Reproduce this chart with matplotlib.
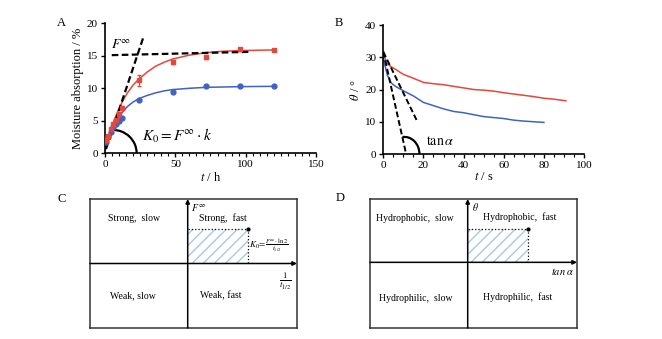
import matplotlib
matplotlib.use('Agg')
import matplotlib.pyplot as plt
from matplotlib.patches import Arc, Rectangle
from matplotlib.ticker import MultipleLocator

plt.rcParams['font.family'] = ['Liberation Serif', 'DejaVu Serif']
plt.rcParams['mathtext.fontset'] = 'stix'

RED = '#e5483b'
BLUE = '#4062c4'

# Panel A: moisture absorption data points
t_pts = [1, 2, 4, 6, 8, 10, 12, 24, 48, 72, 96, 120]
red_pts = [2.0, 2.7, 3.7, 4.5, 5.1, 6.0, 7.0, 11.2, 14.0, 14.8, 16.0, 15.9]
red_err = [0.1, 0.1, 0.2, 0.2, 0.2, 0.2, 0.3, 0.8, 0.3, 0.3, 0.2, 0.2]
blue_pts = [1.8, 2.5, 3.3, 4.0, 4.5, 5.0, 5.5, 8.2, 9.5, 10.4, 10.3, 10.3]

# fitted curves
t_fit = [0, 2, 4, 6, 8, 10, 12, 16, 20, 24, 30, 36, 42, 48, 60, 72, 84, 96, 108, 120]
red_fit = [0.5, 2.2, 3.6, 4.8, 5.9, 6.9, 7.8, 9.3, 10.5, 11.4, 12.5, 13.4, 14.0,
           14.5, 15.1, 15.5, 15.7, 15.8, 15.85, 15.9]
blue_fit = [0.5, 1.8, 3.0, 4.0, 4.9, 5.6, 6.2, 7.2, 7.9, 8.4, 8.9, 9.3, 9.6,
            9.8, 10.0, 10.15, 10.2, 10.25, 10.28, 10.3]

# Panel B: contact angle vs time
t_b_red = [0, 1, 2, 4, 6, 8, 10, 15, 20, 25, 30, 35, 40, 45, 50, 55, 60, 65, 70, 75, 80, 85, 91]
theta_red = [31, 29.5, 28, 27, 26.3, 25.5, 24.7, 23.5, 22.2, 21.8, 21.5, 21, 20.5, 20,
             19.8, 19.5, 19, 18.6, 18.2, 17.8, 17.3, 17, 16.5]
t_b_blue = [0, 1, 2, 4, 6, 8, 10, 15, 20, 25, 30, 35, 40, 45, 50, 55, 60, 65, 70, 75, 80]
theta_blue = [30, 27, 24.5, 22, 21, 20.3, 19.6, 18, 16, 15, 14, 13.2, 12.8, 12.2, 11.6,
              11.3, 11, 10.5, 10.2, 10, 9.8]

fig = plt.figure(figsize=(6.62, 3.39), dpi=100)


def style_axes(ax):
    for s in ['top', 'right']:
        ax.spines[s].set_visible(False)
    for s in ['left', 'bottom']:
        ax.spines[s].set_linewidth(1.2)
    ax.tick_params(labelsize=8, width=1.0, length=3, direction='out', pad=2)
    ax.tick_params(which='minor', width=0.8, length=2)


# ---- A ----
axA = fig.add_axes([0.1586, 0.5478, 0.3187, 0.3835])
axA.plot(t_fit, red_fit, color=RED, lw=1.1)
axA.plot(t_fit, blue_fit, color=BLUE, lw=1.1)
axA.errorbar(t_pts, red_pts, yerr=red_err, fmt='s', color=RED, ms=3.5,
             elinewidth=0.8, capsize=1.5, zorder=3)
axA.plot(t_pts, blue_pts, 'o', color=BLUE, ms=3.5, zorder=3)
axA.plot([0.7, 27.2], [0.65, 17.8], ls='--', color='black', lw=1.6, dashes=(3, 1.5))
axA.plot([4.8, 102], [15.1, 15.6], ls='--', color='black', lw=1.6, dashes=(3, 1.5))
axA.add_patch(Arc((5.5, 0), 34, 7.2, theta1=0, theta2=95, color='black', lw=1.6))
axA.text(4.5, 16.7, r'$F^{\infty}$', fontsize=10, va='center')
axA.text(26, 2.6, r'$K_0=F^{\infty}\cdot k$', fontsize=11, va='center')
axA.set_xlim(0, 150)
axA.set_ylim(0, 20)
axA.set_xticks([0, 50, 100, 150])
axA.set_yticks([0, 5, 10, 15, 20])
axA.xaxis.set_minor_locator(MultipleLocator(5))
axA.set_xlabel(r'$t$ / h', fontsize=9, labelpad=1)
axA.set_ylabel('Moisture absorption / %', fontsize=9, labelpad=2)
style_axes(axA)
fig.text(57 / 662, 1 - 23 / 339, 'A', fontsize=9, va='center')

# ---- B ----
axB = fig.add_axes([0.579, 0.5457, 0.3032, 0.3805])
axB.plot(t_b_red, theta_red, color=RED, lw=1.1)
axB.plot(t_b_blue, theta_blue, color=BLUE, lw=1.1)
axB.plot([0, 11.3], [31.7, 0.2], ls='--', color='black', lw=1.4, dashes=(3, 1.5))
axB.plot([0, 17], [31.7, 10], ls='--', color='black', lw=1.4, dashes=(3, 1.5))
axB.add_patch(Arc((10.5, 0), 15, 10.6, theta1=0, theta2=100, color='black', lw=1.6))
axB.text(21.3, 3.8, r'$\mathrm{tan}\,\alpha$', fontsize=10, va='center')
axB.set_xlim(0, 100)
axB.set_ylim(0, 40)
axB.set_xticks([0, 20, 40, 60, 80, 100])
axB.set_yticks([0, 10, 20, 30, 40])
axB.xaxis.set_minor_locator(MultipleLocator(5))
axB.set_xlabel(r'$t$ / s', fontsize=9, labelpad=1)
axB.set_ylabel(r'$\theta$ / °', fontsize=9, labelpad=2)
style_axes(axB)
fig.text(335 / 662, 1 - 23 / 339, 'B', fontsize=9, va='center')


# ---- C and D: quadrant diagrams ----
def quadrant(ax, vx, hy, rx, ry):
    ax.set_xlim(0, 1)
    ax.set_ylim(0, 1)
    ax.set_xticks([])
    ax.set_yticks([])
    for s in ax.spines.values():
        s.set_linewidth(1.1)
        s.set_color('#333333')
    ax.annotate('', xy=(1.0, hy), xytext=(0, hy),
                arrowprops=dict(arrowstyle='-|>', color='black', lw=1.1,
                                mutation_scale=6, shrinkA=0, shrinkB=0))
    ax.annotate('', xy=(vx, 1.0), xytext=(vx, 0),
                arrowprops=dict(arrowstyle='-|>', color='black', lw=1.1,
                                mutation_scale=6, shrinkA=0, shrinkB=0))
    ax.add_patch(Rectangle((vx, hy), rx - vx, ry - hy, fill=False, hatch='///',
                           edgecolor='#a9c8e4', lw=0))
    ax.plot([vx, rx, rx], [ry, ry, hy], ls=':', color='black', lw=0.9)
    ax.plot([rx], [ry], 'o', color='black', ms=2)


axC = fig.add_axes([90 / 662, 1 - 328 / 339, 207 / 662, 129 / 339])
quadrant(axC, 0.472, 0.50, 0.765, 0.767)
axC.text(0.085, 0.85, 'Strong,  slow', fontsize=7, va='center')
axC.text(0.525, 0.85, 'Strong,  fast', fontsize=7, va='center')
axC.text(0.095, 0.25, 'Weak, slow', fontsize=7, va='center')
axC.text(0.53, 0.25, 'Weak, fast', fontsize=7, va='center')
axC.text(0.49, 0.98, r'$F^{\infty}$', fontsize=7, va='top')
axC.text(0.77, 0.635, r'$K_0\!=\!\frac{F^{\infty}\cdot\ln2}{t_{1/2}}$', fontsize=6.5, va='center')
axC.text(0.915, 0.44, r'$\frac{1}{t_{1/2}}$', fontsize=9, va='top')
fig.text(57 / 662, 1 - 199 / 339, 'C', fontsize=9, va='center')

axD = fig.add_axes([370 / 662, 1 - 328 / 339, 207 / 662, 129 / 339])
quadrant(axD, 0.472, 0.509, 0.765, 0.767)
axD.text(0.03, 0.85, 'Hydrophobic,  slow', fontsize=7, va='center')
axD.text(0.545, 0.86, 'Hydrophobic,  fast', fontsize=7, va='center')
axD.text(0.045, 0.23, 'Hydrophilic,  slow', fontsize=7, va='center')
axD.text(0.545, 0.24, 'Hydrophilic,  fast', fontsize=7, va='center')
axD.text(0.495, 0.94, r'$\theta$', fontsize=7, va='center')
axD.text(0.875, 0.44, r'$tan\ \alpha$', fontsize=7.5, va='center')
fig.text(336 / 662, 1 - 198 / 339, 'D', fontsize=9, va='center')

fig.savefig('out.png', dpi=100)
